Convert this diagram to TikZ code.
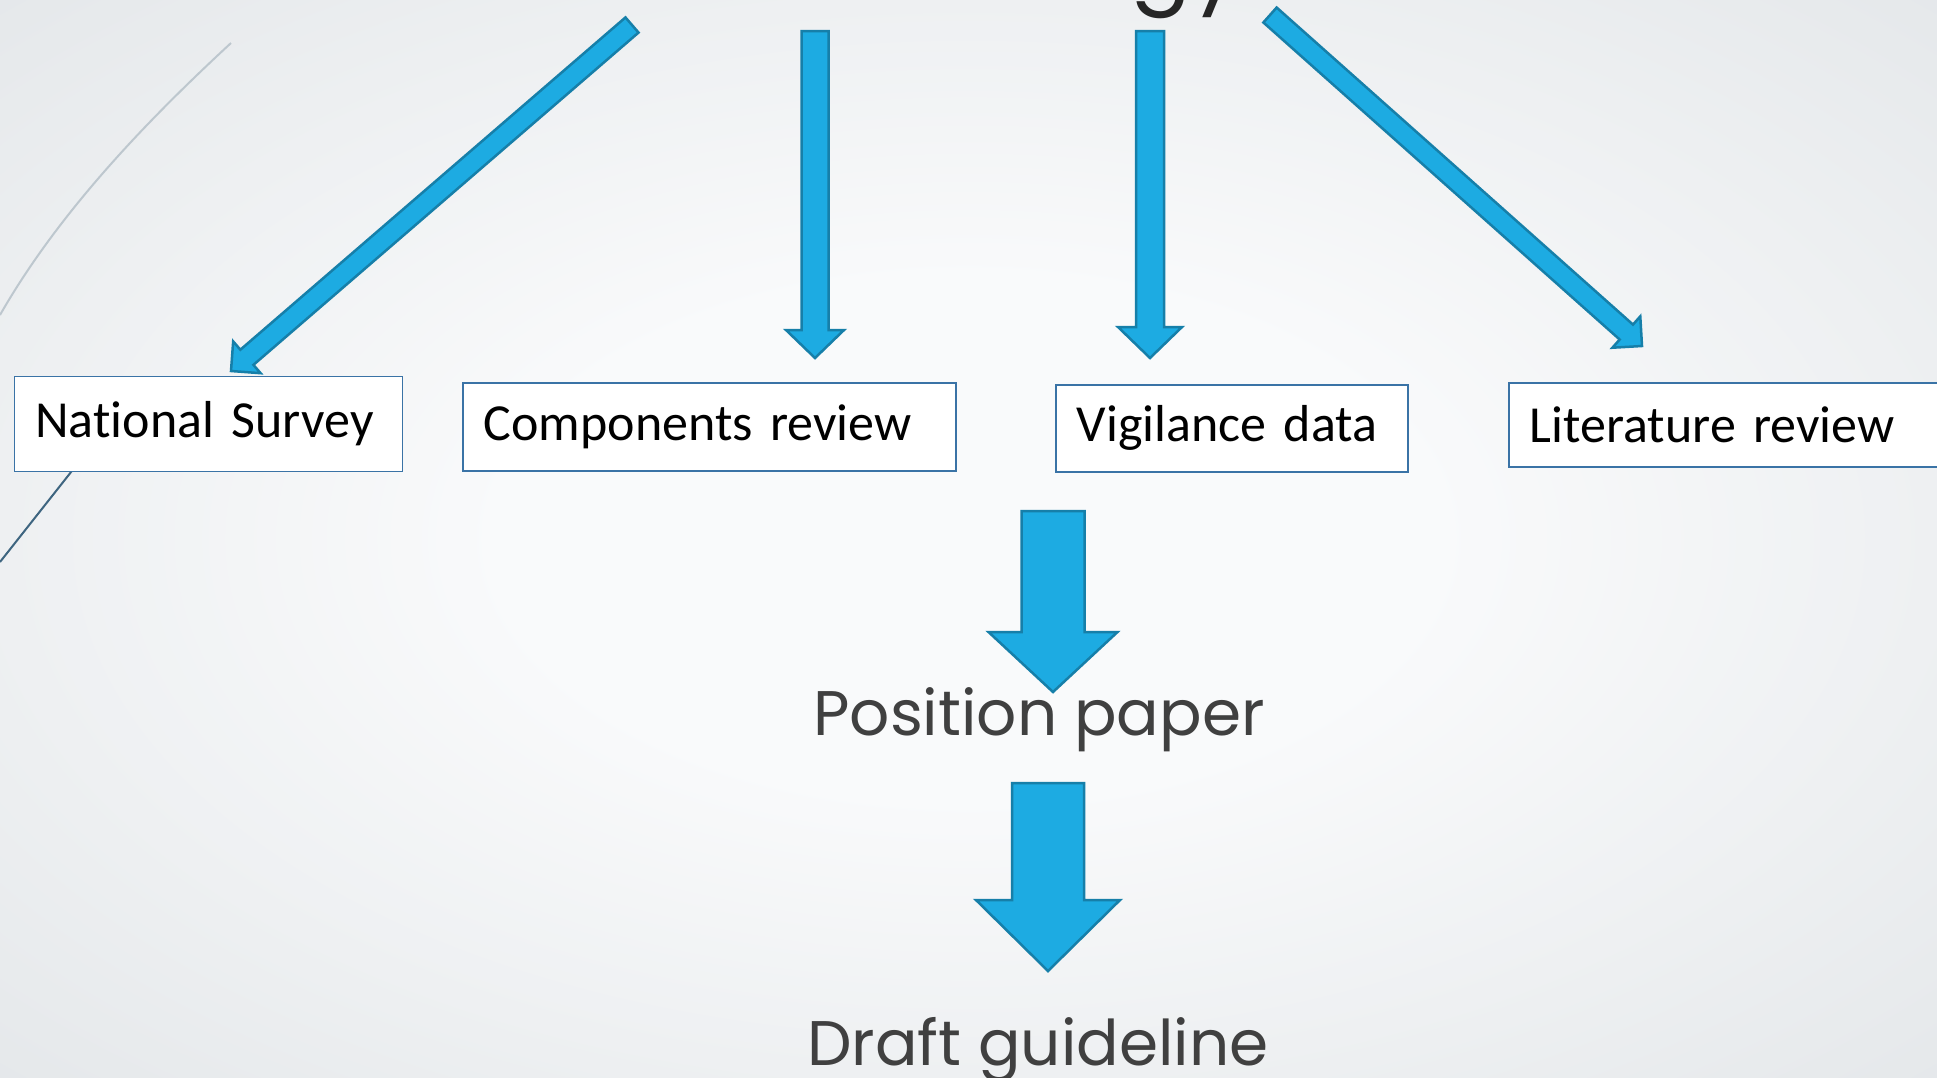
\documentclass[tikz,border=0pt]{standalone}
\usepackage{fontspec}
\setmainfont{Carlito}[Ligatures=NoCommon]
\newfontfamily\gothic{Poppins}
\usetikzlibrary{calc,positioning}

\definecolor{arrowblue}{HTML}{1DABE2}
\definecolor{arrowedge}{HTML}{167FA9}
\definecolor{boxedge}{HTML}{3A73A6}
\definecolor{bgin}{HTML}{F9FAFB}
\definecolor{bgout}{HTML}{DCE0E3}
\definecolor{captiongray}{HTML}{404040}
\definecolor{titlegray}{HTML}{262626}
\definecolor{swoosh}{HTML}{BDC7CE}
\definecolor{swooshdark}{HTML}{3E6580}

\pgfdeclareradialshading{slidebg}{\pgfpoint{0bp}{0bp}}{color(0bp)=(bgin); color(12bp)=(bgin); color(46bp)=(bgout)}

\tikzset{
  blockarr/.style={fill=arrowblue,draw=arrowedge,line width=2.5pt,line join=miter},
  box/.style={draw=boxedge,line width=1.6pt,fill=white,anchor=north west,inner xsep=21pt,inner ysep=0pt,align=left,font=\fontsize{52}{60}\selectfont},
  caption/.style={anchor=base,inner sep=0pt,text=captiongray,font=\gothic\fontsize{63}{70}\selectfont}
}

% from, to, shaft half width, head half width, head length
\newcommand{\blockarrow}[5]{%
  \path ($(#2)!#5!(#1)$) coordinate (bhead);
  \filldraw[blockarr] ($(#1)!#3!90:(#2)$) -- ($(bhead)!#3!90:(#2)$)
    -- ($(bhead)!#4!90:(#2)$) -- (#2) -- ($(bhead)!#4!-90:(#2)$)
    -- ($(bhead)!#3!-90:(#2)$) -- ($(#1)!#3!-90:(#2)$) -- cycle;}

\begin{document}
\begin{tikzpicture}[x=1pt,y=-1pt]
\useasboundingbox (0,0) rectangle (1937,1077);
\clip (0,0) rectangle (1937,1077);
\shade[shading=slidebg] (0,0) rectangle (1937,1077);
\draw[swoosh,line width=2pt] (231,43) .. controls (150,118) and (60,210) .. (0,315);
\draw[swooshdark,line width=2pt] (90,448) -- (0,562);

\node[anchor=base west,inner sep=0pt,text=titlegray,font=\gothic\fontsize{90}{90}\selectfont] (title) at (1130,-6) {gy};

\node[box,text width=346pt,minimum height=95pt] (ns) at (13.6,375.5) {\mbox{National Survey}};
\node[box,text width=451pt,minimum height=88pt] (cr) at (462,382) {\mbox{Components review}};
\node[box,text width=310pt,minimum height=87pt] (vd) at (1055,384) {\mbox{Vigilance data}};
\node[box,text width=418pt,minimum height=84pt] (lr) at (1508,382) {\mbox{Literature review}};

\node[caption] (pp) at (1039,735) {Position paper};
\node[caption] (dg) at (1038,1065) {Draft guideline};

\coordinate (ns-from) at (632,25);
\coordinate (ns-to) at (231,371);
\coordinate (cr-from) at (815,31);
\coordinate (cr-to) at (815,358);
\coordinate (vd-from) at (1150,31);
\coordinate (vd-to) at (1150,358);
\coordinate (lr-from) at (1270,15);
\coordinate (lr-to) at (1642,346);
\coordinate (pp-from) at (1053,511);
\coordinate (pp-to) at (1053,692);
\coordinate (dg-from) at (1048,783);
\coordinate (dg-to) at (1048,971);

\blockarrow{ns-from}{ns-to}{10pt}{21pt}{21pt}
\blockarrow{cr-from}{cr-to}{13.5pt}{29pt}{28pt}
\blockarrow{vd-from}{vd-to}{14pt}{32pt}{31pt}
\blockarrow{lr-from}{lr-to}{10pt}{21pt}{21pt}
\blockarrow{pp-from}{pp-to}{31.5pt}{64.5pt}{60pt}
\blockarrow{dg-from}{dg-to}{36pt}{72pt}{71pt}
\end{tikzpicture}
\end{document}
